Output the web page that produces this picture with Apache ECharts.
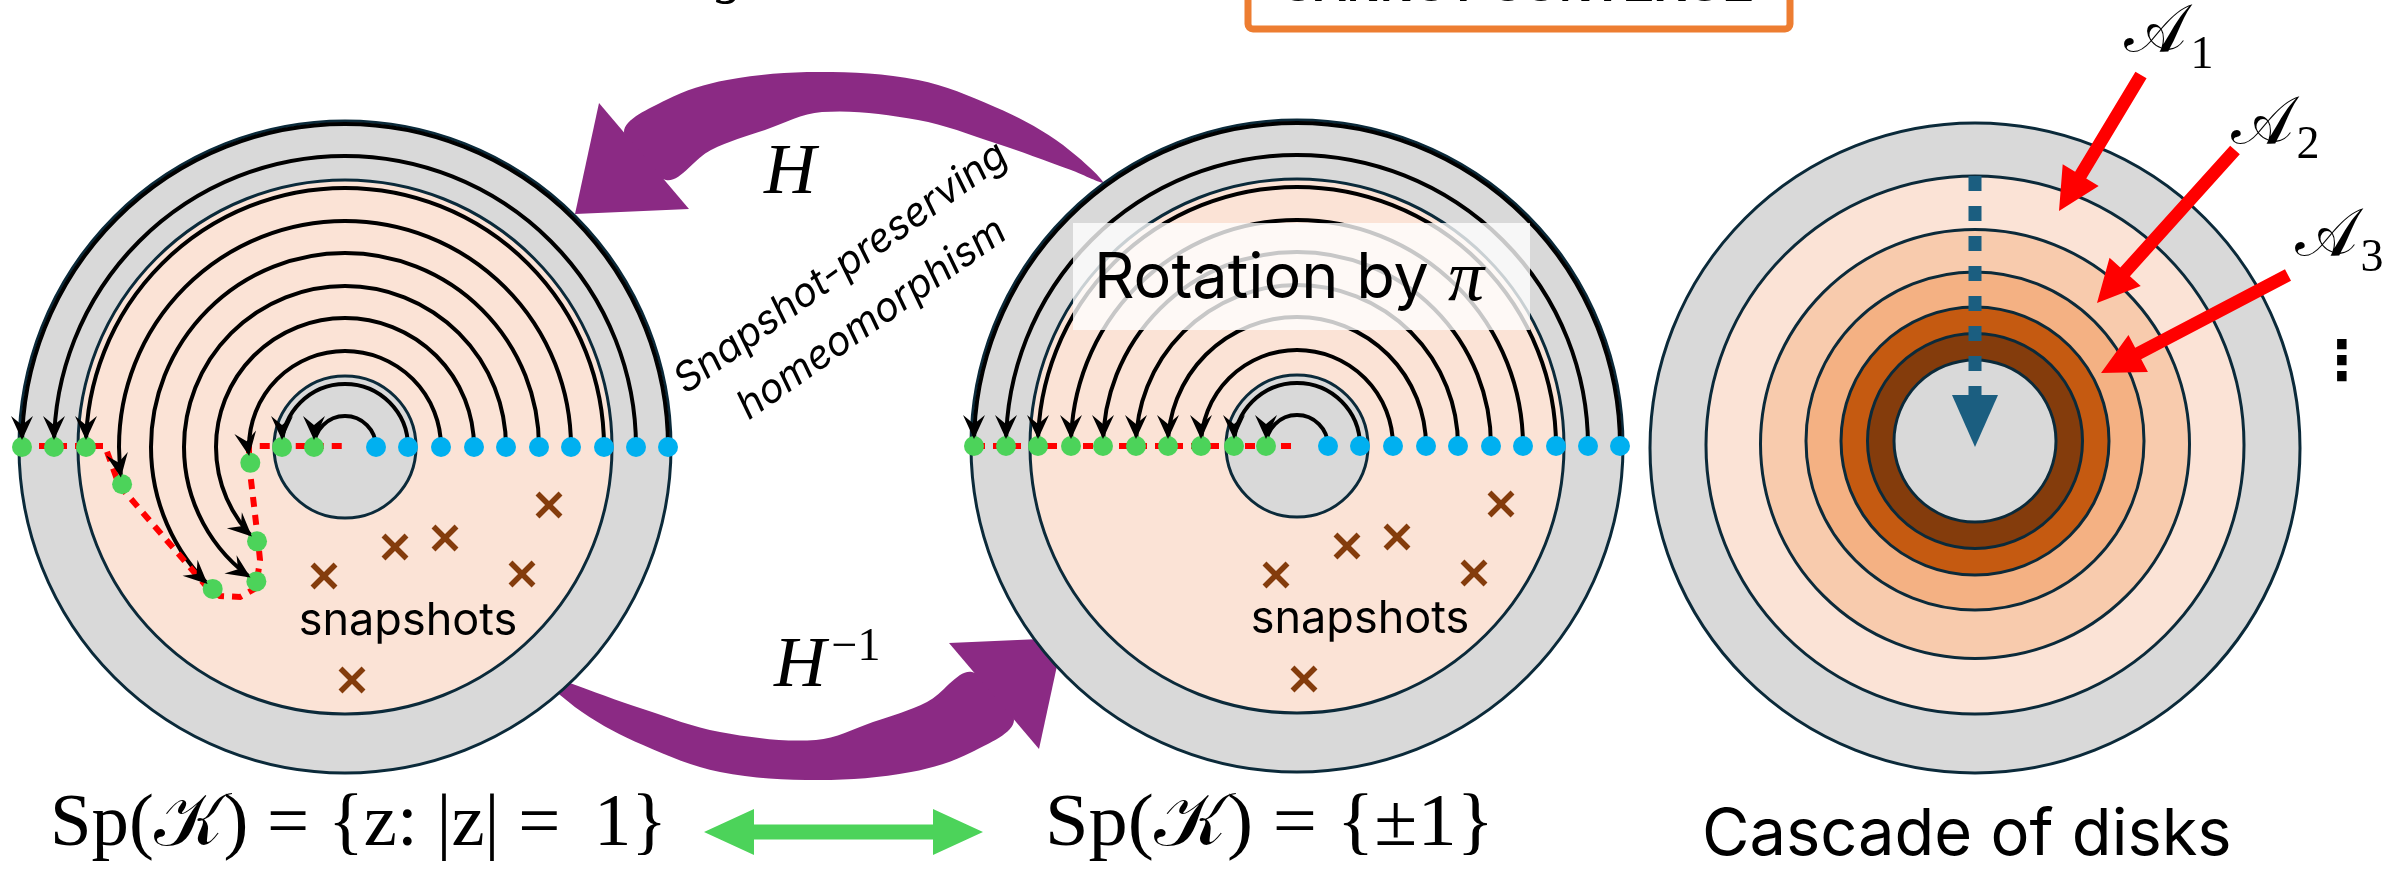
<!DOCTYPE html>
<html><head><meta charset="utf-8">
<script src="https://cdn.jsdelivr.net/npm/echarts@6/dist/echarts.min.js"></script>
<style>html,body{margin:0;padding:0;background:#fff}#c{width:2402px;height:869px}</style>
</head><body><div id="c"></div>
<script>
// ---------------- data ----------------
const arcRadii = [31, 63, 96, 129, 161, 194, 226, 259, 291, 323];
const leftArcEnd = [180, 180, 189.5, 227, 236.6, 227, 189.5, 180, 180, 180];
const midArcEnd = [180, 180, 180, 180, 180, 180, 180, 180, 180, 180];
const leftCenter = [345, 447];
const midCenter = [1297, 446];
const diskRadii = [326, 267, 71];
const snapshotOffsets = [[204, 58], [100, 91], [50, 100], [-21, 129], [177, 127], [7, 233]];
const leftRedPath = [[21, 446], [105, 446], [119, 485], [207, 587], [220, 596], [240, 597], [256, 588], [260, 560], [258, 540], [249, 463], [249, 446], [345, 446]];
const midRedPath = [[975, 446], [1297, 446]];
const cascadeCenterX = 1975;
const cascadeRadii = [325, 269, 214.5, 169, 134, 107.5, 81];
const cascadeCenterY = [448, 445, 444, 441, 441, 441, 441];
const topArrowBand = [[1103,182],[1056,140],[995,107],[918,80],[819,72],[727,80],[666,100],[624,132],[666,180],[711,150],[765,130],[822,112],[918,120],[995,143],[1071,170]];
const topArrowHead = [[599,103],[575,214],[689,209]];
const bottomArrowBand = [[535,670],[582,712],[643,745],[720,772],[819,780],[911,772],[972,752],[1014,720],[972,672],[927,702],[873,722],[816,740],[720,732],[643,709],[567,682]];
const bottomArrowHead = [[1039,749],[1063,638],[949,643]];
const redArrows = [[[2141,75],[2059,211]], [[2235,150],[2097,303]], [[2288,275],[2101,373]]];
const blueDashArrow = [[1975,176],[1975,447]];
const greenDoubleArrow = [[704,832],[983,832]];

const COL = {gray:'#D9D9D9', pink:'#FBE3D6', navy:'#0B2A3A', green:'#4CD35A', blue:'#00B0F0',
  red:'#FF0000', brown:'#843C0C', purple:'#8B2A84', teal:'#1B5E80', orange:'#ED7D31'};
const cascadeColors = [COL.gray, '#FBE3D6', '#F8CBAD', '#F4B183', '#C55A11', '#843C0C', COL.gray];

// ---------------- helpers ----------------
function endPoint(c, r, deg) {
  const t = deg * Math.PI / 180;
  return [c[0] + r * Math.cos(t), c[1] - r * Math.sin(t)];
}
function arrowPoly(t, h, headLen, headHalf, shaftHalf) {
  const dx=h[0]-t[0], dy=h[1]-t[1], L=Math.hypot(dx,dy), ux=dx/L, uy=dy/L, nx=-uy, ny=ux;
  const bx=h[0]-ux*headLen, by=h[1]-uy*headLen;
  return [[t[0]+nx*shaftHalf,t[1]+ny*shaftHalf],[bx+nx*shaftHalf,by+ny*shaftHalf],[bx+nx*headHalf,by+ny*headHalf],[h[0],h[1]],[bx-nx*headHalf,by-ny*headHalf],[bx-nx*shaftHalf,by-ny*shaftHalf],[t[0]-nx*shaftHalf,t[1]-ny*shaftHalf]];
}
function dblArrowPoly(a, b, headLen, headHalf, shaftHalf) {
  const dx=b[0]-a[0], dy=b[1]-a[1], L=Math.hypot(dx,dy), ux=dx/L, uy=dy/L, nx=-uy, ny=ux;
  const a2=[a[0]+ux*headLen,a[1]+uy*headLen], b2=[b[0]-ux*headLen,b[1]-uy*headLen];
  return [a,[a2[0]+nx*headHalf,a2[1]+ny*headHalf],[a2[0]+nx*shaftHalf,a2[1]+ny*shaftHalf],[b2[0]+nx*shaftHalf,b2[1]+ny*shaftHalf],[b2[0]+nx*headHalf,b2[1]+ny*headHalf],b,[b2[0]-nx*headHalf,b2[1]-ny*headHalf],[b2[0]-nx*shaftHalf,b2[1]-ny*shaftHalf],[a2[0]-nx*shaftHalf,a2[1]-ny*shaftHalf],[a2[0]-nx*headHalf,a2[1]-ny*headHalf]];
}

// derived items
const diskItems = [];
[leftCenter, midCenter].forEach(c => {
  diskItems.push([c[0], c[1], diskRadii[0], COL.gray]);
  diskItems.push([c[0], c[1], diskRadii[1], COL.pink]);
  diskItems.push([c[0], c[1], diskRadii[2], COL.gray]);
});
cascadeRadii.forEach((r, i) => diskItems.push([cascadeCenterX, cascadeCenterY[i], r, cascadeColors[i]]));

const arcItems = [];
arcRadii.forEach((r, i) => arcItems.push([leftCenter[0], leftCenter[1], r, leftArcEnd[i]]));
arcRadii.forEach((r, i) => arcItems.push([midCenter[0], midCenter[1], r, midArcEnd[i]]));

const greenDots = arcItems.map(a => endPoint([a[0], a[1]], a[2], a[3]));
const blueDots = arcItems.map(a => [a[0] + a[2], a[1]]);
const snapshots = [];
[leftCenter, midCenter].forEach(c => snapshotOffsets.forEach(o => snapshots.push([c[0] + o[0], c[1] + o[1]])));

// ---------------- chart ----------------
const chart = echarts.init(document.getElementById('c'), null, {renderer: 'canvas'});
const P = (api, p) => api.coord(p);
const S = api => api.coord([1, 0])[0] - api.coord([0, 0])[0];

function customSeries(name, data, render, z) {
  return {type: 'custom', name, data, z, silent: true, animation: false,
    encode: {x: 0, y: 1}, renderItem: (params, api) => render(params.dataIndex, api)};
}

const SERIF = '"Liberation Serif", "DejaVu Serif", serif';
const textDefs = [
  // [text, x, y, size, family, style, weight, align, rotationDeg, scaleX]
  ['snapshots', 408, 621, 45, 'Inter', 'normal', 'normal', 'center', 0, 1],
  ['snapshots', 1360, 619, 45, 'Inter', 'normal', 'normal', 'center', 0, 1],
  ['Sp(𝒦) = {z: |z| =\u2009 1}', 50, 826, 74, SERIF, 'normal', 'normal', 'left', 0, 1.01],
  ['Sp(𝒦) = {±1}', 1045, 826, 74, SERIF, 'normal', 'normal', 'left', 0, 1.06],
  ['Cascade of disks', 1702, 835, 65, 'Inter', 'normal', 'normal', 'left', 0, 1],
  ['Rotation by', 1094, 279, 63, 'Inter', 'normal', 'normal', 'left', 0, 1],
  ['π', 1448, 281, 72, SERIF, 'italic', 'normal', 'left', 0, 1],
  ['H', 790, 174, 72, SERIF, 'italic', 'normal', 'center', 0, 1],
  ['H', 800, 667, 72, SERIF, 'italic', 'normal', 'center', 0, 1],
  ['−1', 856, 648, 46, SERIF, 'normal', 'normal', 'center', 0, 1],
  ['Snapshot-preserving', 841, 268, 40, 'Inter', 'italic', 'normal', 'center', 35.8, 1],
  ['homeomorphism', 872, 319, 40, 'Inter', 'italic', 'normal', 'center', 35.2, 1],
  ['𝒜', 2155, 34, 66, '"DejaVu Serif", "Liberation Serif", serif', 'normal', 'normal', 'center', 0, 1],
  ['1', 2202, 56, 46, SERIF, 'normal', 'normal', 'center', 0, 1],
  ['𝒜', 2262, 126, 66, '"DejaVu Serif", "Liberation Serif", serif', 'normal', 'normal', 'center', 0, 1],
  ['2', 2308, 146, 46, SERIF, 'normal', 'normal', 'center', 0, 1],
  ['𝒜', 2326, 238, 66, '"DejaVu Serif", "Liberation Serif", serif', 'normal', 'normal', 'center', 0, 1],
  ['3', 2372, 259, 46, SERIF, 'normal', 'normal', 'center', 0, 1],
  ['⋮', 2342, 365, 54, '"DejaVu Sans", sans-serif', 'normal', 'bold', 'center', 0, 1],
  ['CANNOT CONVERGE', 1517, -12, 46, '"Liberation Sans", Arial, sans-serif', 'normal', 'bold', 'center', 0, 1],
  ['g', 730, -23, 56, SERIF, 'italic', 'normal', 'center', 0, 1]
];

const option = {
  animation: false,
  grid: {left: 0, right: 0, top: 0, bottom: 0},
  xAxis: {type: 'value', min: 0, max: 2402, show: false},
  yAxis: {type: 'value', min: 0, max: 869, inverse: true, show: false},
  series: [
    customSeries('purple', [[0,0],[0,0]], (i, api) => {
      const band = (i === 0 ? topArrowBand : bottomArrowBand).map(p => P(api, p));
      const head = (i === 0 ? topArrowHead : bottomArrowHead).map(p => P(api, p));
      return {type: 'group', children: [
        {type: 'polygon', shape: {points: band, smooth: 0.35}, style: {fill: COL.purple}},
        {type: 'polygon', shape: {points: head}, style: {fill: COL.purple}}
      ]};
    }, 1),
    customSeries('disks', diskItems.map(d => [d[0], d[1]]), (i, api) => {
      const d = diskItems[i], c = P(api, [d[0], d[1]]);
      return {type: 'circle', shape: {cx: c[0], cy: c[1], r: d[2] * S(api)},
        style: {fill: d[3], stroke: COL.navy, lineWidth: 3}};
    }, 2),
    customSeries('bluedash', [[0,0]], (i, api) => {
      const a = P(api, blueDashArrow[0]), b = P(api, blueDashArrow[1]);
      const hl = 52 * S(api);
      return {type: 'group', children: [
        {type: 'line', shape: {x1: a[0], y1: a[1], x2: b[0], y2: b[1] - hl + 4},
          style: {stroke: COL.teal, lineWidth: 13, lineDash: [15, 15]}},
        {type: 'polygon', shape: {points: [[b[0] - 23, b[1] - hl], [b[0] + 23, b[1] - hl], b]}, style: {fill: COL.teal}}
      ]};
    }, 3),
    customSeries('arcs', arcItems.map(a => [a[0], a[1]]), (i, api) => {
      const a = arcItems[i], c = P(api, [a[0], a[1]]);
      return {type: 'arc', shape: {cx: c[0], cy: c[1], r: a[2] * S(api), startAngle: 0,
        endAngle: -a[3] * Math.PI / 180, clockwise: false},
        style: {fill: 'none', stroke: '#000', lineWidth: 4}};
    }, 3),
    customSeries('redpath', [[0,0],[0,0]], (i, api) => {
      const pts = (i === 0 ? leftRedPath : midRedPath).map(p => P(api, p));
      return {type: 'polyline', shape: {points: pts},
        style: {fill: 'none', stroke: COL.red, lineWidth: 6, lineDash: [10, 8]}};
    }, 4),
    {type: 'scatter', name: 'blue', data: blueDots, symbol: 'circle', symbolSize: 20, z: 5, silent: true,
      itemStyle: {color: COL.blue, opacity: 1}},
    {type: 'scatter', name: 'green', data: greenDots, symbol: 'circle', symbolSize: 20, z: 5, silent: true,
      itemStyle: {color: COL.green, opacity: 1}},
    customSeries('heads', arcItems.map(a => [a[0], a[1]]), (i, api) => {
      const a = arcItems[i], t = a[3] * Math.PI / 180;
      const e = P(api, endPoint([a[0], a[1]], a[2], a[3]));
      const d = [-Math.sin(t), -Math.cos(t)], n = [-d[1], d[0]];
      const T = [e[0] - 7 * d[0], e[1] - 7 * d[1]];
      const B = [T[0] - 24 * d[0], T[1] - 24 * d[1]];
      const N = [T[0] - 15 * d[0], T[1] - 15 * d[1]];
      return {type: 'polygon', shape: {points: [T, [B[0] + 11 * n[0], B[1] + 11 * n[1]], N, [B[0] - 11 * n[0], B[1] - 11 * n[1]]]},
        style: {fill: '#000'}};
    }, 6),
    customSeries('snapshots', snapshots, (i, api) => {
      const c = P(api, snapshots[i]), h = 11.5;
      const st = {stroke: COL.brown, lineWidth: 5.5};
      return {type: 'group', children: [
        {type: 'line', shape: {x1: c[0] - h, y1: c[1] - h, x2: c[0] + h, y2: c[1] + h}, style: st},
        {type: 'line', shape: {x1: c[0] - h, y1: c[1] + h, x2: c[0] + h, y2: c[1] - h}, style: st}
      ]};
    }, 6),
    customSeries('redarrows', redArrows.map(a => a[0]), (i, api) => {
      const t = P(api, redArrows[i][0]), h = P(api, redArrows[i][1]);
      return {type: 'polygon', shape: {points: arrowPoly(t, h, 42, 21, 6.5)}, style: {fill: COL.red}};
    }, 6),
    customSeries('greenarrow', [greenDoubleArrow[0]], (i, api) => {
      const a = P(api, greenDoubleArrow[0]), b = P(api, greenDoubleArrow[1]);
      return {type: 'polygon', shape: {points: dblArrowPoly(a, b, 50, 23, 7.5)}, style: {fill: COL.green}};
    }, 6),
    customSeries('boxes', [[0,0],[0,0]], (i, api) => {
      if (i === 0) {
        const a = P(api, [1073, 223]), b = P(api, [1530, 330]);
        return {type: 'rect', shape: {x: a[0], y: a[1], width: b[0] - a[0], height: b[1] - a[1]},
          style: {fill: 'rgba(255,255,255,0.78)'}};
      }
      const a = P(api, [1248, -60]), b = P(api, [1790, 29]);
      return {type: 'rect', shape: {x: a[0], y: a[1], width: b[0] - a[0], height: b[1] - a[1], r: 5},
        style: {fill: '#fff', stroke: COL.orange, lineWidth: 7}};
    }, 8),
    customSeries('texts', textDefs.map(t => [t[1], t[2]]), (i, api) => {
      const t = textDefs[i], p = P(api, [t[1], t[2]]);
      return {type: 'text', x: p[0], y: p[1], rotation: t[8] * Math.PI / 180, scaleX: t[9],
        style: {text: t[0], fontSize: t[3], fontFamily: t[4], fontStyle: t[5], fontWeight: t[6],
          fill: '#000', align: t[7], verticalAlign: 'middle'}};
    }, 10)
  ]
};
chart.setOption(option);
</script></body></html>
